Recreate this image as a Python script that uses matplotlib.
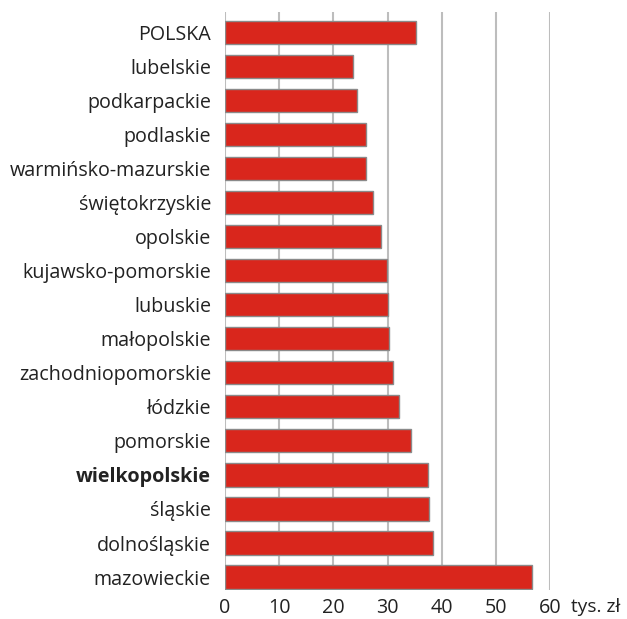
import matplotlib
matplotlib.use('Agg')
import matplotlib.pyplot as plt
import numpy as np

# data (tys. zł)
regions = ['POLSKA', 'lubelskie', 'podkarpackie', 'podlaskie', 'warmińsko-mazurskie',
           'świętokrzyskie', 'opolskie', 'kujawsko-pomorskie', 'lubuskie', 'małopolskie',
           'zachodniopomorskie', 'łódzkie', 'pomorskie', 'wielkopolskie', 'śląskie',
           'dolnośląskie', 'mazowieckie']
values = [35.3, 23.7, 24.3, 26.0, 26.0, 27.3, 28.8, 29.9, 30.1, 30.3,
          31.0, 32.1, 34.3, 37.5, 37.6, 38.4, 56.6]
xticks = [0, 10, 20, 30, 40, 50, 60]
unit_label = 'tys. zł'
bold_region = 'wielkopolskie'

FS = 14.2
plt.rcParams['font.family'] = ['Open Sans', 'DejaVu Sans']

fig = plt.figure(figsize=(6.27, 6.19), dpi=100)
ax = fig.add_axes([225/627, 1 - 590/619, (550 - 225)/627, (590 - 12)/619])

y = np.arange(len(regions))
ax.barh(y, values, height=0.68, color='#d9261c', edgecolor='#8a8a8a', linewidth=1.0, zorder=3)

ax.set_xlim(0, 60)
ax.set_ylim(16.38, -0.6)
ax.set_xticks(xticks)
ax.set_xticklabels([str(t) for t in xticks], fontsize=FS, color='#222222')
ax.set_yticks(y)
ax.set_yticklabels(regions, fontsize=FS, color='#222222')
for lab in ax.get_yticklabels():
    if lab.get_text() == bold_region:
        lab.set_fontweight('bold')

ax.tick_params(axis='y', length=0, pad=10)
ax.tick_params(axis='x', length=0, pad=6)
for s in ax.spines.values():
    s.set_visible(False)

ax.grid(axis='x', color='#bdbdbd', linewidth=1.5, zorder=0)
ax.set_axisbelow(True)

# unit label right of the last tick label, same top line
ax.annotate(unit_label, xy=(1, 0), xycoords='axes fraction',
            xytext=(15, -6), textcoords='offset points',
            fontsize=FS - 0.4, color='#222222', ha='left', va='top')

fig.savefig('out.png', dpi=100)
